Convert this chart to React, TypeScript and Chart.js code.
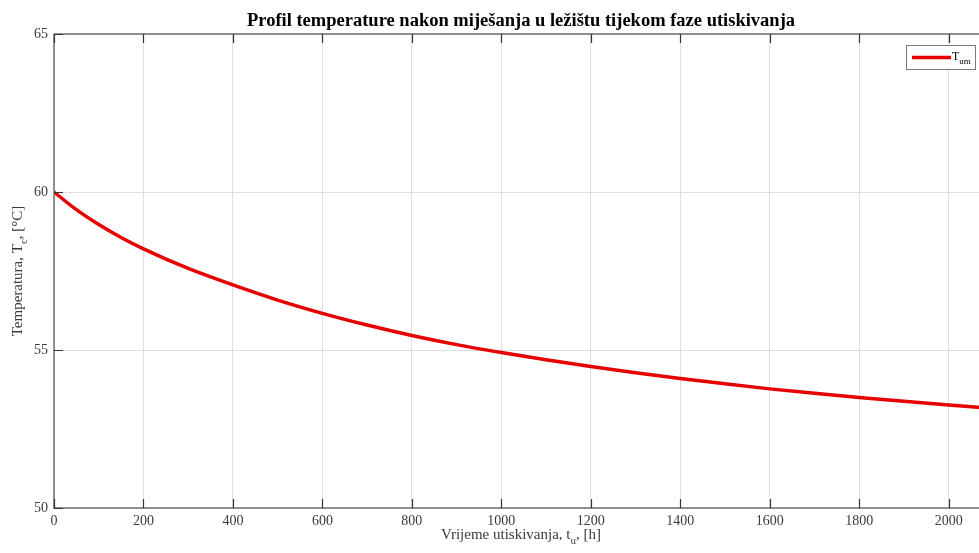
import React, { useEffect, useRef } from "react";
import { Chart, registerables } from "chart.js";

Chart.register(...registerables);

// ---- data ----
const timeHours = [0, 50, 100, 150, 200, 300, 400, 500, 600, 700, 800, 900, 1000, 1100, 1200, 1300, 1400, 1500, 1600, 1700, 1800, 1900, 2000, 2088];
const tempValues = [60.0, 59.44, 58.97, 58.56, 58.2, 57.58, 57.06, 56.58, 56.16, 55.79, 55.46, 55.17, 54.92, 54.69, 54.48, 54.28, 54.1, 53.93, 53.77, 53.63, 53.5, 53.38, 53.26, 53.16];
const xTickValues = [0, 200, 400, 600, 800, 1000, 1200, 1400, 1600, 1800, 2000];
const yTickValues = [50, 55, 60, 65];
const xRange = [0, 2088];
const yRange = [50, 65];

const titleText = "Profil temperature nakon miješanja u ležištu tijekom faze utiskivanja";
const xTitleParts = ["Vrijeme utiskivanja, t", "u", ", [h]"];
const yTitleParts = ["Temperatura, T", "c", ", [°C]"];
const legendParts = ["T", "um"];

const SERIF = "'Liberation Serif', 'Times New Roman', serif";
const RED = "#e60000";

function drawSubText(ctx: CanvasRenderingContext2D, parts: string[], cx: number, cy: number, size: number) {
  const main = `${size}px ${SERIF}`;
  const sub = `${Math.round(size * 0.72)}px ${SERIF}`;
  ctx.font = main;
  const w0 = ctx.measureText(parts[0]).width;
  const w2 = ctx.measureText(parts[2]).width;
  ctx.font = sub;
  const w1 = ctx.measureText(parts[1]).width;
  const total = w0 + w1 + w2;
  let x = cx - total / 2;
  ctx.textAlign = "left";
  ctx.textBaseline = "alphabetic";
  ctx.font = main;
  ctx.fillText(parts[0], x, cy);
  x += w0;
  ctx.font = sub;
  ctx.fillText(parts[1], x, cy + size * 0.3);
  x += w1;
  ctx.font = main;
  ctx.fillText(parts[2], x, cy);
}

const framePlugin = {
  id: "matlabFrame",
  afterDraw(chart: any) {
    const { ctx, chartArea } = chart;
    const { left, right, top, bottom } = chartArea;
    const xs = chart.scales.x;
    const ys = chart.scales.y;
    ctx.save();
    // axes box
    ctx.strokeStyle = "#707070";
    ctx.lineWidth = 1.5;
    ctx.beginPath();
    ctx.moveTo(left, top);
    ctx.lineTo(right, top);
    ctx.moveTo(left, top);
    ctx.lineTo(left, bottom);
    ctx.lineTo(right, bottom);
    ctx.moveTo(right, top);
    ctx.lineTo(right, bottom);
    ctx.stroke();
    // inward ticks
    ctx.strokeStyle = "#333333";
    ctx.lineWidth = 1.2;
    ctx.beginPath();
    xs.ticks.forEach((t: any) => {
      const px = Math.round(xs.getPixelForValue(t.value)) + 0.5;
      ctx.moveTo(px, bottom);
      ctx.lineTo(px, bottom - 9);
      ctx.moveTo(px, top);
      ctx.lineTo(px, top + 9);
    });
    ys.ticks.forEach((t: any) => {
      const py = Math.round(ys.getPixelForValue(t.value)) + 0.5;
      ctx.moveTo(left, py);
      ctx.lineTo(left + 9, py);
      ctx.moveTo(right, py);
      ctx.lineTo(right - 9, py);
    });
    ctx.stroke();

    // title
    ctx.fillStyle = "#000000";
    ctx.font = `bold 18.5px ${SERIF}`;
    ctx.textAlign = "center";
    ctx.textBaseline = "alphabetic";
    const cx = (left + right) / 2;
    ctx.fillText(titleText, cx, 26);

    // x title
    ctx.fillStyle = "#3a3a3a";
    drawSubText(ctx, xTitleParts, cx, 539, 15);

    // y title
    ctx.save();
    ctx.translate(22, (top + bottom) / 2);
    ctx.rotate(-Math.PI / 2);
    drawSubText(ctx, yTitleParts, 0, 0, 15);
    ctx.restore();

    // legend
    const lw = 69, lh = 24;
    const lx = right - 13 - lw;
    const ly = top + 11;
    ctx.fillStyle = "#ffffff";
    ctx.fillRect(lx, ly, lw, lh);
    ctx.strokeStyle = "#7a7a7a";
    ctx.lineWidth = 1;
    ctx.strokeRect(lx + 0.5, ly + 0.5, lw, lh);
    ctx.strokeStyle = RED;
    ctx.lineWidth = 3.5;
    ctx.beginPath();
    ctx.moveTo(lx + 6, ly + 12.5);
    ctx.lineTo(lx + 45, ly + 12.5);
    ctx.stroke();
    ctx.fillStyle = "#000000";
    ctx.textAlign = "left";
    ctx.font = `12px ${SERIF}`;
    ctx.fillText(legendParts[0], lx + 46, ly + 15);
    const tw = ctx.measureText(legendParts[0]).width;
    ctx.font = `9px ${SERIF}`;
    ctx.fillText(legendParts[1], lx + 46 + tw, ly + 19);
    ctx.restore();
  },
};

export default function App() {
  const canvasRef = useRef<HTMLCanvasElement | null>(null);

  useEffect(() => {
    const canvas = canvasRef.current;
    if (!canvas) return;
    const chart = new Chart(canvas, {
      type: "line",
      data: {
        datasets: [
          {
            label: "Tum",
            data: timeHours.map((t, i) => ({ x: t, y: tempValues[i] })),
            borderColor: RED,
            borderWidth: 3.5,
            pointRadius: 0,
            fill: false,
            cubicInterpolationMode: "monotone",
          },
        ],
      },
      options: {
        animation: false,
        responsive: false,
        devicePixelRatio: 1,
        layout: { padding: { left: 0, top: 34, right: 12, bottom: 0 } },
        plugins: { legend: { display: false }, title: { display: false }, tooltip: { enabled: false } },
        scales: {
          x: {
            type: "linear",
            min: xRange[0],
            max: xRange[1],
            afterBuildTicks: (scale: any) => {
              scale.ticks = xTickValues.map((v) => ({ value: v }));
            },
            afterFit: (scale: any) => {
              scale.height = 45;
            },
            grid: { color: "#dedede", lineWidth: 1, drawTicks: false },
            border: { display: false },
            ticks: {
              color: "#3a3a3a",
              font: { family: SERIF, size: 14 },
              padding: 5,
              maxRotation: 0,
              autoSkip: false,
              callback: (v: any) => String(v),
            },
          },
          y: {
            type: "linear",
            min: yRange[0],
            max: yRange[1],
            afterBuildTicks: (scale: any) => {
              scale.ticks = yTickValues.map((v) => ({ value: v }));
            },
            afterFit: (scale: any) => {
              scale.width = 54;
            },
            grid: { color: "#dedede", lineWidth: 1, drawTicks: false },
            border: { display: false },
            ticks: {
              color: "#3a3a3a",
              font: { family: SERIF, size: 14 },
              padding: 6,
              callback: (v: any) => String(v),
            },
          },
        },
      },
      plugins: [framePlugin],
    });
    return () => chart.destroy();
  }, []);

  return (
    <div style={{ position: "fixed", left: 0, top: 0, width: 979, height: 553, overflow: "hidden", background: "#ffffff" }}>
      <canvas ref={canvasRef} width={1000} height={553} style={{ display: "block", width: 1000, height: 553 }} />
    </div>
  );
}
